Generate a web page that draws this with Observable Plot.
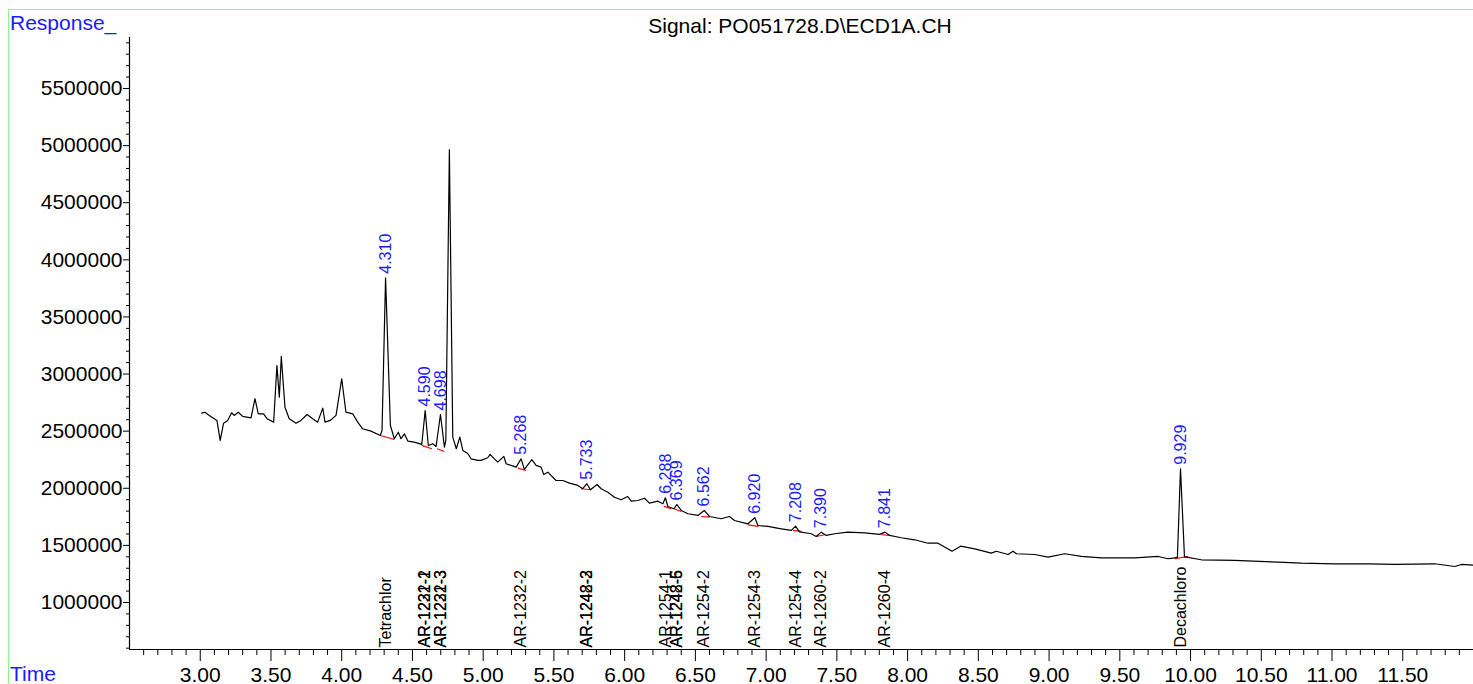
<!DOCTYPE html>
<html>
<head>
<meta charset="utf-8">
<script src="https://cdn.jsdelivr.net/npm/d3@7"></script>
<script src="https://cdn.jsdelivr.net/npm/@observablehq/plot@0.6"></script>
<style>
  html, body { margin: 0; padding: 0; background: #fff; overflow: hidden; }
  #page { position: relative; width: 1473px; height: 684px; font-family: "Liberation Sans", Arial, sans-serif; }
  #frameL { position: absolute; left: 8px; top: 9px; width: 1px; height: 675px; background: #88f888; }
  #frameT { position: absolute; left: 8px; top: 9px; width: 1465px; height: 1px; background: #88f888; }
  .lbl { position: absolute; font-size: 21px; line-height: 21px; white-space: nowrap; }
  #resp { left: 10px; top: 11.5px; color: #1a1aff; }
  #title { left: 0; width: 1600px; text-align: center; top: 14.5px; color: #000; }
  #time { left: 10px; top: 663px; color: #1a1aff; }
  #chart { position: absolute; left: 0; top: 34px; }
</style>
</head>
<body>
<div id="page">
  <div id="frameL"></div>
  <div id="frameT"></div>
  <div class="lbl" id="resp">Response_</div>
  <div class="lbl" id="title">Signal: PO051728.D\ECD1A.CH</div>
  <div id="chart"></div>
  <div class="lbl" id="time">Time</div>
</div>
<script>
// ---- Data ----
const traceTime = [
  3.010, 3.033, 3.064, 3.099, 3.118, 3.141, 3.165, 3.194, 3.222, 3.240,
  3.269, 3.300, 3.359, 3.387, 3.410, 3.448, 3.472, 3.519, 3.542, 3.559,
  3.573, 3.599, 3.629, 3.677, 3.712, 3.755, 3.795, 3.830, 3.866, 3.882,
  3.919, 3.960, 4.000, 4.030, 4.078, 4.113, 4.148, 4.207, 4.273, 4.285,
  4.310, 4.344, 4.372, 4.400, 4.419, 4.443, 4.467, 4.513, 4.566, 4.590,
  4.612, 4.644, 4.667, 4.698, 4.726, 4.736, 4.761, 4.785, 4.810, 4.835,
  4.856, 4.891, 4.914, 4.962, 4.985, 5.032, 5.049, 5.079, 5.103, 5.146, 5.162,
  5.233, 5.268, 5.291, 5.344, 5.374, 5.409, 5.428, 5.457, 5.515, 5.563,
  5.610, 5.669, 5.704, 5.733, 5.758, 5.805, 5.834, 5.881, 5.928, 5.975,
  6.022, 6.046, 6.093, 6.140, 6.175, 6.235, 6.270, 6.288, 6.305, 6.348,
  6.369, 6.400, 6.447, 6.518, 6.562, 6.600, 6.682, 6.741, 6.776, 6.871,
  6.920, 6.942, 7.013, 7.107, 7.178, 7.208, 7.236, 7.319, 7.354, 7.390,
  7.425, 7.484, 7.578, 7.696, 7.802, 7.841, 7.873, 7.955, 8.049, 8.144,
  8.215, 8.314, 8.375, 8.474, 8.592, 8.627, 8.710, 8.745, 8.769, 8.898,
  8.993, 9.110, 9.228, 9.370, 9.605, 9.771, 9.841, 9.888, 9.907, 9.929,
  9.957, 9.970, 10.076, 10.312, 10.619, 10.783, 11.019, 11.255, 11.444, 11.726,
  11.868, 11.915, 12.000
];
const traceResponse = [
  2658000, 2666000, 2638000, 2609000, 2594000, 2419000, 2570000, 2594000, 2661000, 2638000,
  2666000, 2629000, 2617000, 2784000, 2652000, 2652000, 2609000, 2579000, 3075000, 2798000,
  3154000, 2710000, 2609000, 2570000, 2594000, 2646000, 2609000, 2579000, 2702000, 2579000,
  2594000, 2638000, 2959000, 2666000, 2652000, 2579000, 2521000, 2500000, 2462000, 2506000,
  3843000, 2550000, 2434000, 2491000, 2434000, 2477000, 2413000, 2404000, 2384000, 2681000,
  2375000, 2390000, 2366000, 2646000, 2360000, 2419000, 4964000, 2448000, 2346000, 2448000,
  2331000, 2305000, 2258000, 2244000, 2244000, 2267000, 2297000, 2258000, 2229000, 2279000, 2215000,
  2185000, 2258000, 2165000, 2250000, 2200000, 2185000, 2121000, 2141000, 2068000, 2068000,
  2045000, 2025000, 1996000, 2040000, 1987000, 2033000, 1996000, 1966000, 1922000, 1899000,
  1928000, 1887000, 1893000, 1913000, 1870000, 1887000, 1864000, 1917000, 1841000, 1821000,
  1858000, 1806000, 1777000, 1762000, 1806000, 1753000, 1733000, 1753000, 1718000, 1689000,
  1742000, 1674000, 1666000, 1645000, 1631000, 1668000, 1619000, 1602000, 1578000, 1616000,
  1587000, 1602000, 1616000, 1610000, 1596000, 1616000, 1587000, 1567000, 1549000, 1519000,
  1519000, 1449000, 1493000, 1470000, 1432000, 1449000, 1420000, 1449000, 1427000, 1420000,
  1397000, 1427000, 1403000, 1391000, 1391000, 1403000, 1383000, 1391000, 1395000, 2171000,
  1400000, 1397000, 1374000, 1368000, 1353000, 1344000, 1339000, 1339000, 1333000, 1339000,
  1315000, 1333000, 1327000
];

// Integrated peaks: retention time labels and apex heights
const peakTimes   = [4.310, 4.590, 4.698, 5.268, 5.733, 6.288, 6.369, 6.562, 6.920, 7.208, 7.390, 7.841, 9.929];
const peakLabels  = ["4.310","4.590","4.698","5.268","5.733","6.288","6.369","6.562","6.920","7.208","7.390","7.841","9.929"];
const peakHeights = [3843000, 2681000, 2646000, 2258000, 2040000, 1917000, 1858000, 1806000, 1742000, 1668000, 1616000, 1616000, 2171000];

// Integration baselines (red) under each peak
const baseStartT = [4.273, 4.566, 4.674, 5.245, 5.692, 6.277, 6.348, 6.541, 6.871, 7.189, 7.354, 7.814, 9.888];
const baseStartV = [2462000, 2375000, 2346000, 2176000, 1996000, 1841000, 1821000, 1753000, 1680000, 1631000, 1578000, 1593000, 1383000];
const baseEndT   = [4.372, 4.637, 4.726, 5.303, 5.763, 6.329, 6.400, 6.600, 6.946, 7.248, 7.413, 7.873, 9.983];
const baseEndV   = [2427000, 2346000, 2322000, 2156000, 1987000, 1821000, 1797000, 1747000, 1666000, 1622000, 1593000, 1587000, 1403000];

// Compound names (some share a retention time and overprint)
const compoundTimes = [4.310, 4.590, 4.590, 4.698, 4.698, 5.268, 5.733, 5.733, 6.288, 6.369, 6.369, 6.562, 6.920, 7.208, 7.390, 7.841, 9.929];
const compoundNames = ["Tetrachlor", "AR-1221-2", "AR-1232-1", "AR-1232-3", "AR-1221-3", "AR-1232-2", "AR-1242-2", "AR-1248-3",
                       "AR-1254-1", "AR-1242-6", "AR-1248-5", "AR-1254-2", "AR-1254-3", "AR-1254-4", "AR-1260-2", "AR-1260-4", "Decachloro"];

// Axis ticks
const xMajorTicks = [3.0, 3.5, 4.0, 4.5, 5.0, 5.5, 6.0, 6.5, 7.0, 7.5, 8.0, 8.5, 9.0, 9.5, 10.0, 10.5, 11.0, 11.5];
const yMajorTicks = [1000000, 1500000, 2000000, 2500000, 3000000, 3500000, 4000000, 4500000, 5000000, 5500000];
const xDomain = [2.5, 12.0];
const yDomain = [588500, 5946500];

// ---- Build tables ----
const trace = traceTime.map((t, i) => ({t, v: traceResponse[i]}));
const peaks = peakTimes.map((t, i) => ({t, v: peakHeights[i], label: peakLabels[i]}));
const baselines = baseStartT.map((t, i) => ({t1: t, v1: baseStartV[i], t2: baseEndT[i], v2: baseEndV[i]}));
const compounds = compoundTimes.map((t, i) => ({t, name: compoundNames[i]}));
const xMinorTicks = d3.range(26, 120).map(d => d / 10).filter(d => Math.abs(d * 2 - Math.round(d * 2)) > 1e-6);
const yMinorTicks = d3.range(6, 60).map(d => d * 100000).filter(d => d % 500000 !== 0);

const chart = Plot.plot({
  width: 1473,
  height: 650,
  marginLeft: 129,
  marginRight: 0,
  marginTop: 3,
  marginBottom: 35,
  x: {domain: xDomain},
  y: {domain: yDomain},
  style: {fontFamily: "'Liberation Sans', Arial, sans-serif", fontSize: "21px", color: "black", background: "transparent", overflow: "visible"},
  marks: [
    Plot.axisX(xMinorTicks, {tickSize: 6, tickFormat: () => "", label: null, strokeWidth: 1}),
    Plot.axisX(xMajorTicks, {tickSize: 12, tickPadding: 6, tickFormat: d3.format(".2f"), label: null, fontSize: 21, strokeWidth: 1}),
    Plot.axisY(yMinorTicks, {tickSize: 3, tickFormat: () => "", label: null}),
    Plot.axisY(yMajorTicks, {tickSize: 6, tickPadding: 1, tickFormat: d3.format("d"), label: null, fontSize: 21}),
    Plot.ruleX([xDomain[0]], {stroke: "black", strokeWidth: 1.2}),
    Plot.ruleY([yDomain[0]], {stroke: "black", strokeWidth: 1.2}),
    Plot.link(baselines, {x1: "t1", y1: "v1", x2: "t2", y2: "v2", stroke: "red", strokeWidth: 1.2}),
    Plot.line(trace, {x: "t", y: "v", stroke: "black", strokeWidth: 1.2, curve: "linear"}),
    Plot.text(peaks, {x: "t", y: "v", text: "label", rotate: -90, textAnchor: "start", lineAnchor: "middle", dy: -4, fill: "#1a1aff", fontSize: 16}),
    Plot.text(compounds, {x: "t", frameAnchor: "bottom", text: "name", rotate: -90, textAnchor: "start", lineAnchor: "middle", dy: -2, fill: "black", fontSize: 16})
  ]
});
document.getElementById("chart").appendChild(chart);
</script>
</body>
</html>
